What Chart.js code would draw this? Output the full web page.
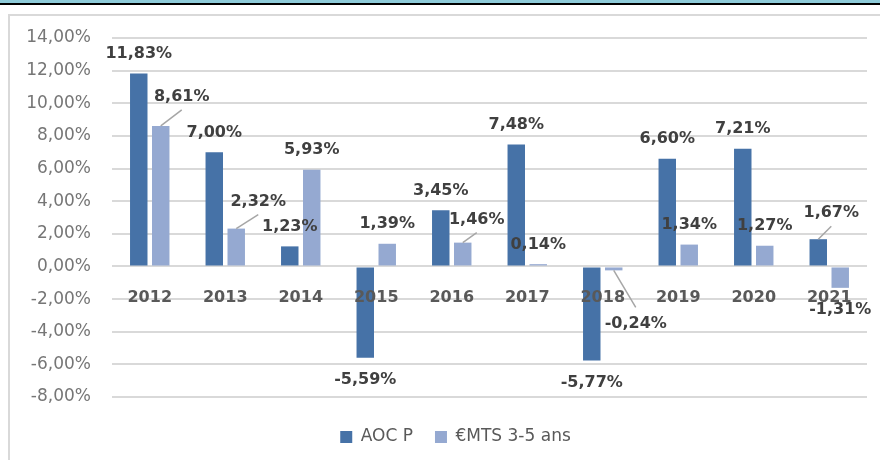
<!DOCTYPE html>
<html>
<head>
<meta charset="utf-8">
<script src="https://cdn.jsdelivr.net/npm/chart.js@4/dist/chart.umd.min.js"></script>
<style>
html,body{margin:0;padding:0;background:#fff;width:880px;height:460px;overflow:hidden;}
#band{position:absolute;left:0;top:0;width:880px;height:3px;background:#8ecbd9;}
#rule{position:absolute;left:0;top:3px;width:880px;height:2px;background:#000;}
#frame{position:absolute;left:8px;top:14px;width:880px;height:460px;border-left:2px solid #d9d9d9;border-top:2px solid #d9d9d9;}
#wrap{position:absolute;left:0;top:0;width:880px;height:460px;}
</style>
</head>
<body>
<div id="band"></div>
<div id="rule"></div>
<div id="frame"></div>
<div id="wrap"><canvas id="c" width="880" height="460"></canvas></div>
<script>
// ---- data ----
const categories = ['2012', '2013', '2014', '2015', '2016', '2017', '2018', '2019', '2020', '2021'];
const seriesNames = ['AOC P', '€MTS 3-5 ans'];
const aocP = [11.83, 7.00, 1.23, -5.59, 3.45, 7.48, -5.77, 6.60, 7.21, 1.67];
const emts = [8.61, 2.32, 5.93, 1.39, 1.46, 0.14, -0.24, 1.34, 1.27, -1.31];
const yMin = -8, yMax = 14, yStep = 2;

// ---- styling ----
const colors = ['#4672a7', '#95a9d1'];
const FONT = '"DejaVu Sans", Verdana, sans-serif';
// label offsets (dx, dy from bar end) for labels moved with leader lines
const labelShift = {
  '0-9': [13, -26],
  '1-0': [21, -29],
  '1-1': [22, -27],
  '1-4': [14, -23],
  '1-6': [22, 53]
};
const legendShiftX = 12;

const fmt = v => v.toFixed(2).replace('.', ',') + '%';

const valueLabels = {
  id: 'valueLabels',
  afterLayout(chart) {
    chart.legend.left += legendShiftX;
    chart.legend.right += legendShiftX;
  },
  afterDatasetsDraw(chart) {
    const ctx = chart.ctx;
    ctx.save();
    ctx.font = 'bold 16px ' + FONT;
    ctx.textAlign = 'center';
    ctx.textBaseline = 'middle';
    chart.data.datasets.forEach((ds, di) => {
      const meta = chart.getDatasetMeta(di);
      meta.data.forEach((bar, i) => {
        const v = ds.data[i];
        const neg = v < 0;
        const s = labelShift[di + '-' + i];
        const dx = s ? s[0] : 0;
        const dy = s ? s[1] : (neg ? 22 : -19.5);
        const lx = bar.x + dx, ly = bar.y + dy;
        if (s) {
          ctx.strokeStyle = '#a6a6a6';
          ctx.lineWidth = 1.5;
          ctx.beginPath();
          ctx.moveTo(bar.x, bar.y);
          ctx.lineTo(lx, dy < 0 ? ly + 13 : ly - 16);
          ctx.stroke();
        }
        ctx.fillStyle = '#404040';
        ctx.fillText(fmt(v), lx, ly);
      });
    });
    ctx.restore();
  }
};

new Chart(document.getElementById('c'), {
  type: 'bar',
  data: {
    labels: categories,
    datasets: [
      { label: seriesNames[0], data: aocP, backgroundColor: colors[0], borderWidth: 0 },
      { label: seriesNames[1], data: emts, backgroundColor: colors[1], borderWidth: 0 }
    ]
  },
  options: {
    responsive: false,
    animation: false,
    events: [],
    devicePixelRatio: 1,
    categoryPercentage: 0.582,
    barPercentage: 0.795,
    layout: { padding: { left: 20, right: 13, top: 38, bottom: 4.5 } },
    scales: {
      x: {
        position: { y: 0 },
        grid: { display: false },
        border: { display: false },
        ticks: {
          z: 1,
          padding: 14,
          maxRotation: 0,
          color: '#595959',
          font: { family: FONT, size: 16, weight: 'bold' }
        }
      },
      y: {
        min: yMin,
        max: yMax,
        grid: { color: '#d9d9d9', lineWidth: 2, drawTicks: false },
        border: { display: false },
        ticks: {
          stepSize: yStep,
          padding: 21,
          color: '#767676',
          font: { family: FONT, size: 17 },
          callback: v => fmt(v)
        },
        afterFit(s) { s.width = 92; }
      }
    },
    plugins: {
      tooltip: { enabled: false },
      legend: {
        position: 'bottom',
        title: { display: true, text: '', padding: { top: 0, bottom: 8.5 }, font: { size: 1, lineHeight: 1 } },
        labels: {
          boxWidth: 12,
          boxHeight: 12,
          padding: 22,
          color: '#595959',
          font: { family: FONT, size: 17 }
        }
      }
    }
  },
  plugins: [valueLabels]
});
</script>
</body>
</html>
